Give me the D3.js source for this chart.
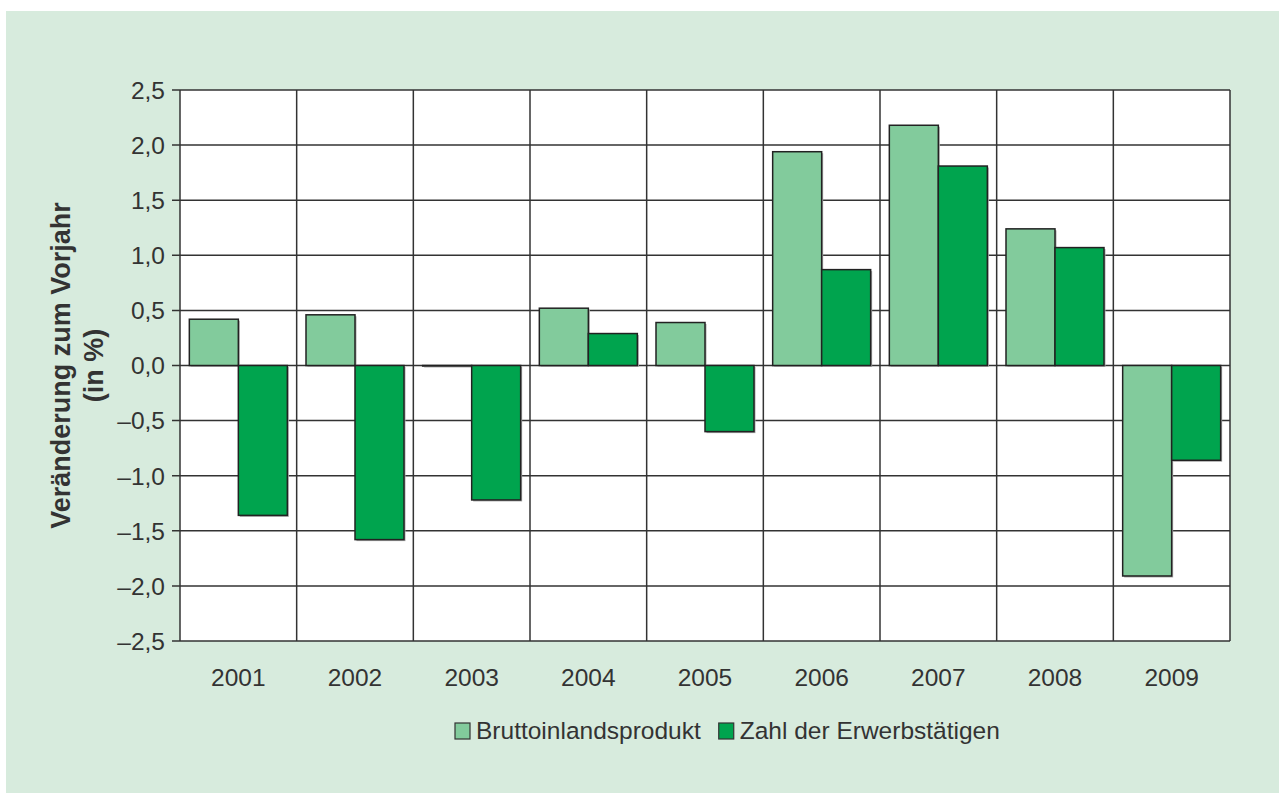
<!DOCTYPE html>
<html>
<head>
<meta charset="utf-8">
<script src="https://cdn.jsdelivr.net/npm/d3@7"></script>
<style>
  body { margin: 0; background: #fff; }
  svg text { fill: #333; font-family: "Liberation Sans", Arial, sans-serif; }
</style>
</head>
<body>
<script>
// Veränderung zum Vorjahr (in %)
var years = ['2001', '2002', '2003', '2004', '2005', '2006', '2007', '2008', '2009'];
var bip = [0.42, 0.46, 0.0, 0.52, 0.39, 1.94, 2.18, 1.24, -1.91];
var erwerb = [-1.36, -1.58, -1.22, 0.29, -0.60, 0.87, 1.81, 1.07, -0.86];
var seriesNames = ['Bruttoinlandsprodukt', 'Zahl der Erwerbstätigen'];
var yTicks = [-2.5, -2.0, -1.5, -1.0, -0.5, 0.0, 0.5, 1.0, 1.5, 2.0, 2.5];

var width = 1279;
var height = 793;
var colors = ['#82cb9c', '#00a44e'];
var plot = {left: 180, right: 1230, top: 90, bottom: 641};

var svg = d3.select('body').append('svg')
  .attr('width', width)
  .attr('height', height);

// green panel
svg.append('rect')
  .attr('x', 6).attr('y', 11)
  .attr('width', width - 6).attr('height', height - 11)
  .attr('fill', '#d7ebdd');

svg.append('rect')
  .attr('x', plot.left).attr('y', plot.top)
  .attr('width', plot.right - plot.left).attr('height', plot.bottom - plot.top)
  .attr('fill', '#fff');

var x0 = d3.scaleBand().domain(years)
  .range([plot.left, plot.right])
  .paddingInner(0.16).paddingOuter(0.08);
var x1 = d3.scaleBand().domain([0, 1]).range([0, x0.bandwidth()]);
var y = d3.scaleLinear().domain([-2.5, 2.5]).range([plot.bottom, plot.top]);

var fmt = function(v) {
  return (v < 0 ? '\u2013' : '') + d3.format('.1f')(Math.abs(v)).replace('.', ',');
};

// horizontal grid + ticks
var grid = svg.append('g');
grid.selectAll('line.h').data(yTicks).enter().append('line')
  .attr('class', 'h')
  .attr('x1', plot.left - 8).attr('x2', plot.right)
  .attr('y1', function(d){ return y(d); })
  .attr('y2', function(d){ return y(d); })
  .attr('stroke', '#333').attr('stroke-width', 1.5);

// vertical column separators
var step = x0.step();
var bounds = years.map(function(d){ return x0(d) - step * 0.08; }).concat([plot.right]);
grid.selectAll('line.v').data(bounds).enter().append('line')
  .attr('class', 'v')
  .attr('x1', function(d){ return d; }).attr('x2', function(d){ return d; })
  .attr('y1', plot.top).attr('y2', plot.bottom)
  .attr('stroke', '#333').attr('stroke-width', 1.5);

svg.selectAll('text.ytick').data(yTicks).enter().append('text')
  .attr('class', 'ytick')
  .attr('x', plot.left - 15)
  .attr('y', function(d){ return y(d); })
  .attr('dy', '0.36em')
  .attr('text-anchor', 'end')
  .style('font-size', '24.5px')
  .text(fmt);

svg.selectAll('text.xtick').data(years).enter().append('text')
  .attr('class', 'xtick')
  .attr('x', function(d){ return x0(d) + x0.bandwidth() / 2; })
  .attr('y', 686)
  .attr('text-anchor', 'middle')
  .style('font-size', '24.5px')
  .text(function(d){ return d; });

// bars
var rows = [];
years.forEach(function(yr, i) {
  rows.push({year: yr, s: 0, v: bip[i]});
  rows.push({year: yr, s: 1, v: erwerb[i]});
});

var bars = svg.append('g');
bars.selectAll('rect.shadow').data(rows).enter().append('rect')
  .attr('class', 'shadow')
  .attr('x', function(d){ return x0(d.year) + x1(d.s) + 1.5; })
  .attr('y', function(d){ return Math.min(y(d.v), y(0)) + 1.5; })
  .attr('width', x1.bandwidth())
  .attr('height', function(d){ return Math.max(0.5, Math.abs(y(d.v) - y(0))); })
  .attr('fill', '#aaa');

bars.selectAll('rect.bar').data(rows).enter().append('rect')
  .attr('class', 'bar')
  .attr('x', function(d){ return x0(d.year) + x1(d.s); })
  .attr('y', function(d){ return Math.min(y(d.v), y(0)); })
  .attr('width', x1.bandwidth())
  .attr('height', function(d){ return Math.max(0.5, Math.abs(y(d.v) - y(0))); })
  .attr('fill', function(d){ return colors[d.s]; })
  .attr('stroke', '#222').attr('stroke-width', 1.5);

// y axis title
var title = svg.append('text')
  .attr('transform', 'translate(78,' + y(0) + ') rotate(-90)')
  .attr('text-anchor', 'middle')
  .style('font-size', '27px')
  .style('font-weight', 'bold');
title.append('tspan').attr('x', 0).attr('dy', -8).text('Veränderung zum Vorjahr');
title.append('tspan').attr('x', 0).attr('dy', 33).text('(in %)');

// legend
var legend = svg.append('g');
var lx = 455;
seriesNames.forEach(function(name, i) {
  legend.append('rect')
    .attr('x', lx).attr('y', 723)
    .attr('width', 15).attr('height', 16)
    .attr('fill', colors[i])
    .attr('stroke', '#333').attr('stroke-width', 1.2);
  var t = legend.append('text')
    .attr('x', lx + 21).attr('y', 739)
    .style('font-size', '24.5px')
    .text(name);
  lx = lx + 21 + t.node().getComputedTextLength() + 18;
});
</script>
</body>
</html>
